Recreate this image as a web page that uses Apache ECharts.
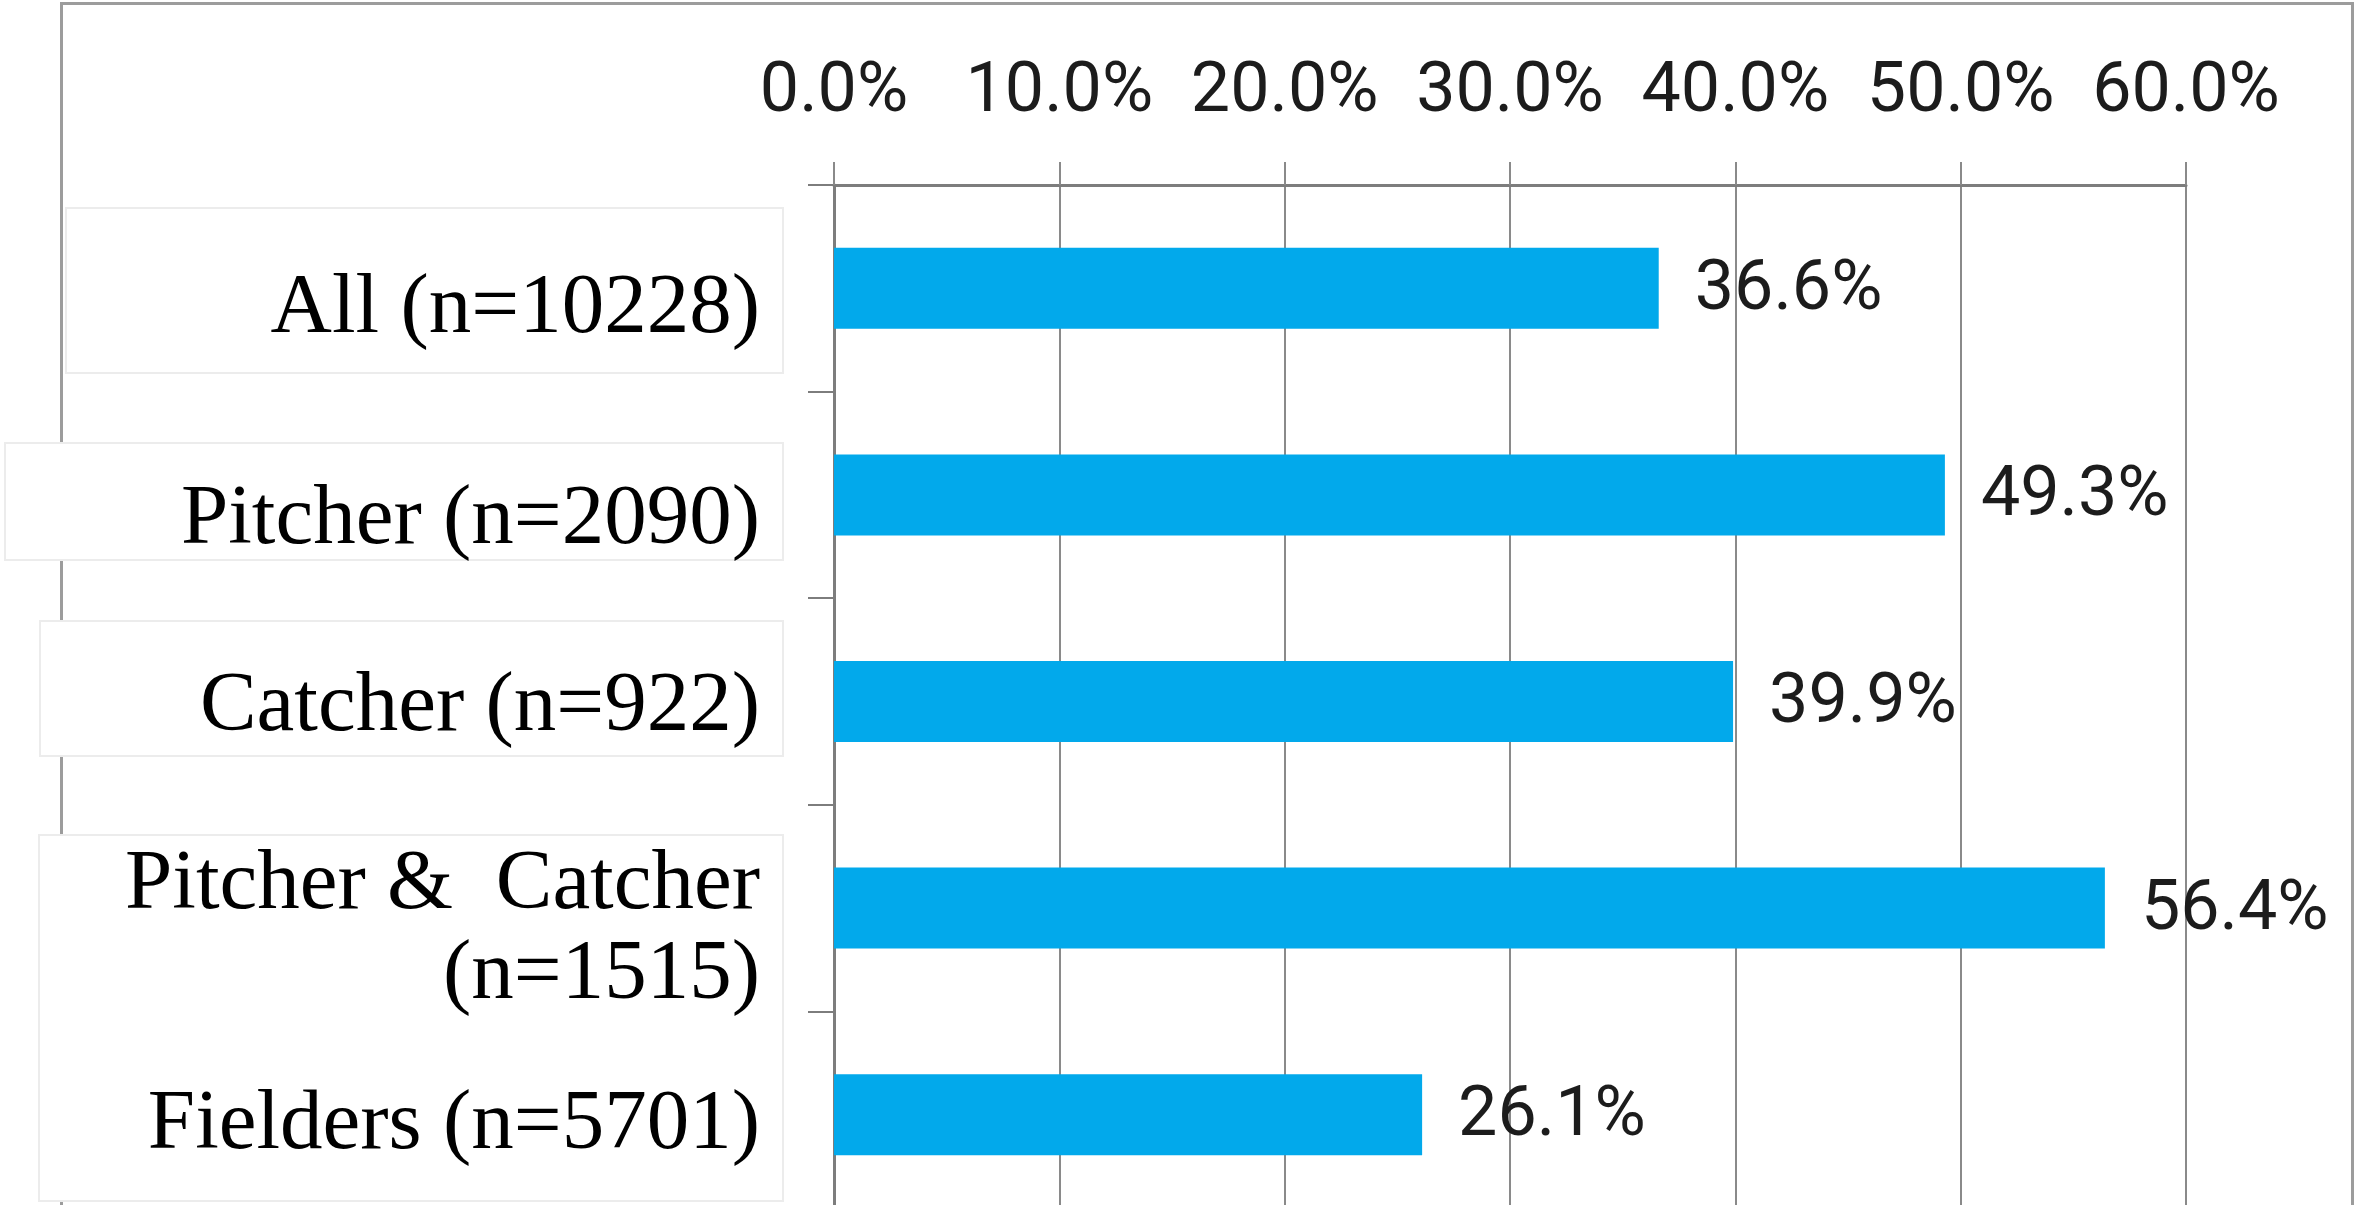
<!DOCTYPE html>
<html>
<head>
<meta charset="utf-8">
<title>Share by position</title>
<script src="https://cdn.jsdelivr.net/npm/echarts@6/dist/echarts.min.js"></script>
<style>
  html, body { margin: 0; padding: 0; background: #ffffff; }
  #chart { width: 2356px; height: 1205px; }
</style>
</head>
<body>
<div id="chart"></div>
<script>
// Groups (top to bottom) and their share, in percent
const categories = [
  'All (n=10228)',
  'Pitcher (n=2090)',
  'Catcher (n=922)',
  'Pitcher &  Catcher\n(n=1515)',
  'Fielders (n=5701)'
];
const shares = [36.6, 49.3, 39.9, 56.4, 26.1];

// Percent ticks along the top axis
const ticks = [0, 10, 20, 30, 40, 50, 60];

// ---- styling ----
const SANS = 'Roboto, "DejaVu Sans", sans-serif';
const SERIF = '"Liberation Serif", "DejaVu Serif", serif';
const BAR = '#02a9eb';
const AXIS = '#7d7d7d';
const GRIDLINE = '#8a8a8a';
// group labels sit in text boxes, nudged down a little from the band centre
const labelShift = [21, 26, 6, 23, 11];
const labelGap = 74;

const fmtPct = v => Number(v).toFixed(1) + '%';

const chart = echarts.init(document.getElementById('chart'), null, { renderer: 'canvas' });

// frame around the chart and the white boxes that hold the group labels
const frameAndBoxes = [
  {
    id: 'frame', type: 'rect', z: -20, silent: true,
    shape: { x: 61.5, y: 3.5, width: 2291, height: 1300 },
    style: { fill: 'none', stroke: '#9c9c9c', lineWidth: 3 }
  },
  {
    id: 'box0', type: 'rect', z: -10, silent: true,
    shape: { x: 66, y: 208, width: 717, height: 165 },
    style: { fill: '#ffffff', stroke: '#ececec', lineWidth: 2 }
  },
  {
    id: 'box1', type: 'rect', z: -10, silent: true,
    shape: { x: 5, y: 443, width: 778, height: 117 },
    style: { fill: '#ffffff', stroke: '#ececec', lineWidth: 2 }
  },
  {
    id: 'box2', type: 'rect', z: -10, silent: true,
    shape: { x: 40, y: 621, width: 743, height: 135 },
    style: { fill: '#ffffff', stroke: '#ececec', lineWidth: 2 }
  },
  {
    id: 'box3', type: 'rect', z: -10, silent: true,
    shape: { x: 39, y: 835, width: 744, height: 366 },
    style: { fill: '#ffffff', stroke: '#ececec', lineWidth: 2 }
  }
];

chart.setOption({
  backgroundColor: '#ffffff',
  animation: false,
  grid: {
    left: 834,
    right: 170,
    top: 185,
    bottom: -13,
    containLabel: false,
    outerBoundsMode: 'none'
  },
  graphic: frameAndBoxes,
  xAxis: {
    type: 'value',
    position: 'top',
    min: ticks[0],
    max: ticks[ticks.length - 1],
    interval: ticks[1] - ticks[0],
    axisLine: { show: true, lineStyle: { color: AXIS, width: 3 } },
    axisTick: { show: true, inside: false, length: 23, lineStyle: { color: GRIDLINE, width: 2 } },
    splitLine: { show: true, lineStyle: { color: GRIDLINE, width: 2 } },
    axisLabel: {
      margin: 57,
      fontFamily: SANS,
      fontSize: 70,
      color: '#1c1c1c',
      formatter: fmtPct
    }
  },
  yAxis: {
    type: 'category',
    inverse: true,
    data: categories,
    axisLine: { show: true, lineStyle: { color: AXIS, width: 3 } },
    axisTick: { show: true, length: 26, lineStyle: { color: AXIS, width: 2 } },
    splitLine: { show: false },
    axisLabel: { show: false }
  },
  series: [{
    type: 'bar',
    data: shares,
    barWidth: 81,
    itemStyle: { color: BAR },
    label: {
      show: true,
      position: 'right',
      distance: 36,
      offset: [0, 3],
      fontFamily: SANS,
      fontSize: 70,
      color: '#1c1c1c',
      formatter: p => fmtPct(p.value)
    }
  }]
});

// Group labels: placed on the category scale, right-aligned before the axis
const axisX = chart.convertToPixel({ xAxisIndex: 0 }, ticks[0]);
const groupLabels = categories.map((name, i) => ({
  id: 'label' + i,
  type: 'text',
  z: 5,
  silent: true,
  x: axisX - labelGap,
  y: chart.convertToPixel({ yAxisIndex: 0 }, name) + labelShift[i],
  style: {
    text: name,
    fontFamily: SERIF,
    fontSize: 85,
    lineHeight: 90,
    fill: '#000000',
    align: 'right',
    verticalAlign: 'middle'
  }
}));

chart.setOption({ graphic: frameAndBoxes.concat(groupLabels) });
</script>
</body>
</html>
